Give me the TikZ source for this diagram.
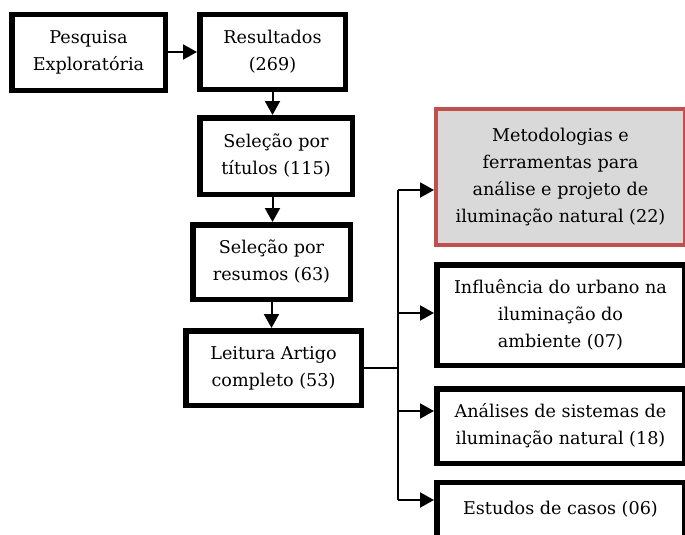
\documentclass[tikz,border=0pt]{standalone}
\usepackage{fontspec}
\setmainfont{DejaVu Serif}
\usetikzlibrary{arrows.meta}
\definecolor{boxred}{HTML}{C0504D}
\definecolor{boxgray}{HTML}{D9D9D9}
\begin{document}
\begin{tikzpicture}[x=1pt,y=-1pt,
  every node/.style={font=\fontsize{17.6}{27}\selectfont, align=center, inner sep=2pt},
  stepbox/.style={draw=black, line width=5.5pt, fill=white},
  redbox/.style={draw=boxred, line width=4pt, fill=boxgray},
  conn/.style={draw=black, line width=2pt, -{Triangle[length=14pt,width=15pt]}},
  plain/.style={draw=black, line width=2pt}]
\useasboundingbox (0,0) rectangle (685,535);
\begin{scope}
\clip (0,0) rectangle (685,535);
\node[stepbox, minimum width=153.5pt, minimum height=75.5pt] (b1) at (88.5,52.5) {Pesquisa\\Exploratória};
\node[stepbox, minimum width=145.5pt, minimum height=74.5pt] (b2) at (272.5,52) {Resultados\\(269)};
\node[stepbox, minimum width=152.5pt, minimum height=76.5pt] (b3) at (276,156) {Seleção por\\títulos (115)};
\node[stepbox, minimum width=157.5pt, minimum height=74.5pt] (b4) at (271.5,262) {Seleção por\\resumos (63)};
\node[stepbox, minimum width=175.5pt, minimum height=74.5pt] (b5) at (273.5,368) {Leitura Artigo\\completo (53)};
\node[redbox, minimum width=249pt, minimum height=136pt] (r1) at (560.5,177) {Metodologias e\\ferramentas para\\análise e projeto de\\iluminação natural (22)};
\node[stepbox, minimum width=247.5pt, minimum height=100.5pt] (r2) at (560.5,315) {Influência do urbano na\\iluminação do\\ambiente (07)};
\node[stepbox, minimum width=247.5pt, minimum height=74.5pt] (r3) at (560.5,426) {Análises de sistemas de\\iluminação natural (18)};
\node[stepbox, minimum width=247.5pt, minimum height=60pt, text depth=10pt] (r4) at (560.5,512.5) {Estudos de casos (06)};

\coordinate (j1) at (398,190);
\coordinate (j2) at (398,313);
\coordinate (j3) at (398,411);
\coordinate (j4) at (398,500);

\draw[conn] (b1.east |- 0,52) -- (b2.west |- 0,52);
\draw[conn] (b2.south) -- (b2.south |- b3.north);
\draw[conn] (b2.south |- b3.south) -- (b2.south |- b4.north);
\draw[conn] (b4.south) -- (b4.south |- b5.north);
\draw[plain] (b5.east) -- (b5.east -| j1);
\draw[plain] (j1) -- (j4);
\draw[conn] (j1) -- (j1 -| r1.west);
\draw[conn] (j2) -- (j2 -| r2.west);
\draw[conn] (j3) -- (j3 -| r3.west);
\draw[conn] (j4) -- (j4 -| r4.west);
\end{scope}
\end{tikzpicture}
\end{document}
